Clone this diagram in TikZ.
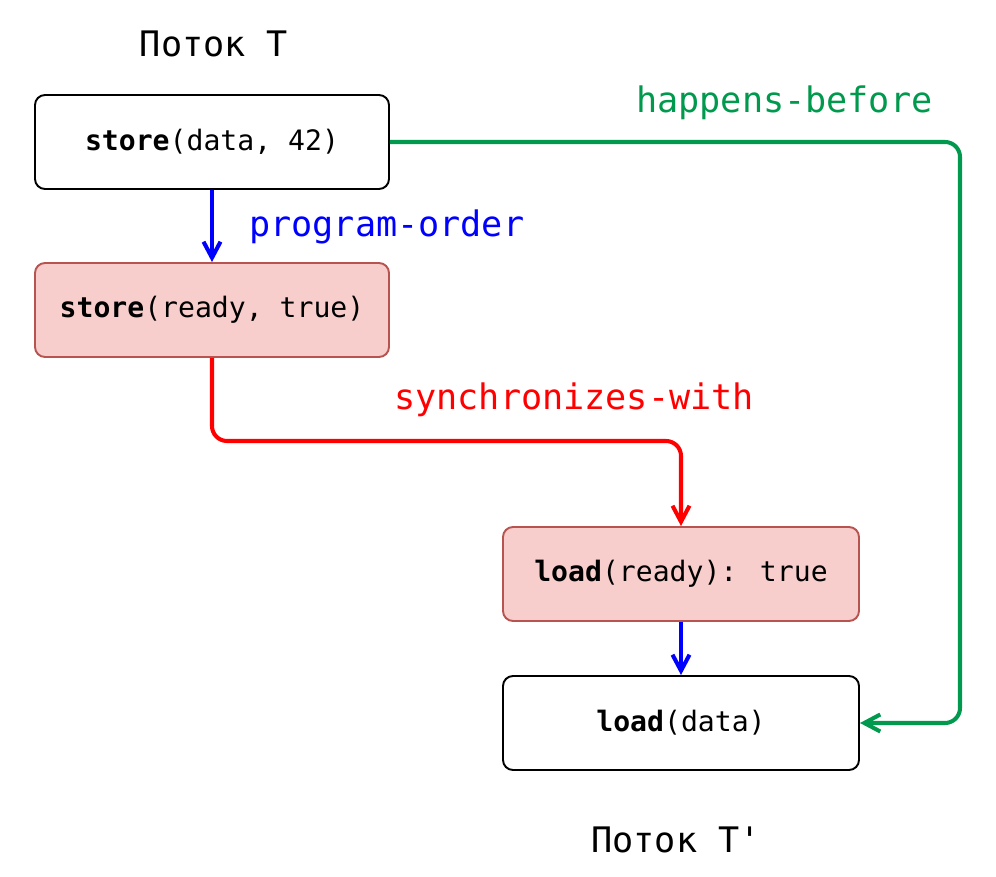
\documentclass[tikz,border=0pt]{standalone}
\usepackage{fontspec}
\setmainfont{DejaVu Sans Mono}[Ligatures=TeXOff]
\usepackage{tikz}
\usetikzlibrary{arrows.meta,positioning}
\usepackage{xcolor}

\definecolor{hbgreen}{RGB}{0,153,77}
\definecolor{syncfill}{HTML}{F8CECC}
\definecolor{syncdraw}{HTML}{B85450}

\begin{document}
\begin{tikzpicture}[
  opbox/.style={rectangle, rounded corners=0.2cm, draw=black, line width=1.1pt,
    minimum width=7.08cm, minimum height=1.88cm, font=\fontsize{16}{19}\selectfont},
  syncbox/.style={opbox, draw=syncdraw, fill=syncfill},
  edgelabel/.style={anchor=west, font=\fontsize{20}{24}\selectfont},
  relarrow/.style={line width=2.3pt, -{Straight Barb[length=3.2mm, width=3.4mm]}, rounded corners=0.3cm}]
  \useasboundingbox (0,0) rectangle (19.92,17.52);

  \node[font=\fontsize{20}{24}\selectfont] (t1) at (4.28,16.64) {Поток T};
  \node[font=\fontsize{20}{24}\selectfont] (t2) at (13.52,0.72) {Поток T'};

  \node[opbox] (a) at (4.24,14.68) {\textbf{store}(data, 42)};
  \node[syncbox] (b) at (4.24,11.32) {\textbf{store}(ready, true)};
  \node[syncbox, minimum width=7.12cm] (c) at (13.62,6.04) {\textbf{load}(ready): true};
  \node[opbox, minimum width=7.12cm] (d) at (13.62,3.06) {\textbf{load}(data)};

  \coordinate (sw) at (13.62,8.7);
  \coordinate (hb) at (19.2,14.68);

  \draw[relarrow, blue] (a) -- (b);
  \draw[relarrow, blue] (c) -- (d);
  \draw[relarrow, red] (b.south) |- (sw) -- (c.north);
  \draw[relarrow, hbgreen] (a.east) -- (hb) |- (d.east);

  \node[edgelabel, text=blue] (po) at (4.86,12.98) {program-order};
  \node[edgelabel, text=red] (sy) at (7.76,9.52) {synchronizes-with};
  \node[edgelabel, text=hbgreen] (hp) at (12.6,15.46) {happens-before};
\end{tikzpicture}
\end{document}
